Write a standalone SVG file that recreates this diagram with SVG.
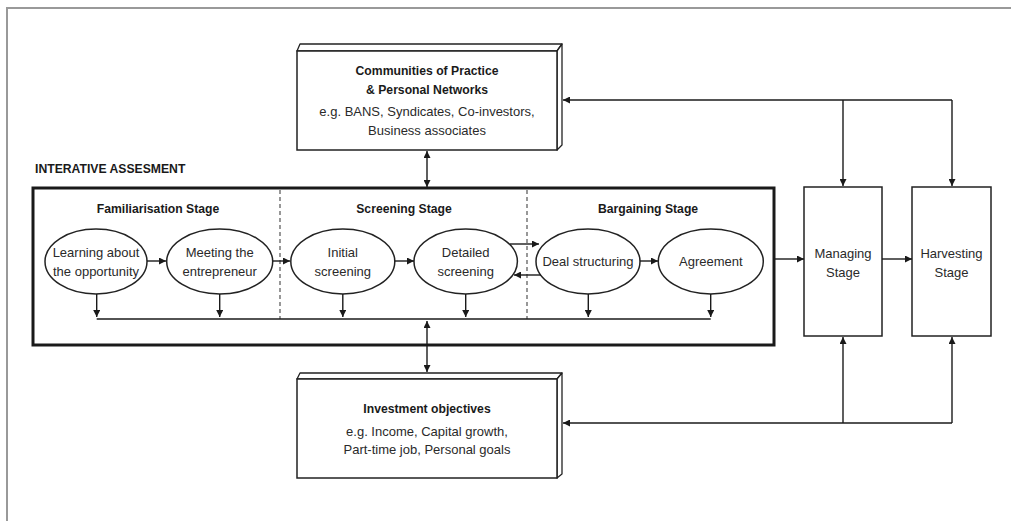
<svg xmlns="http://www.w3.org/2000/svg" width="1011" height="521" viewBox="0 0 1011 521">
<defs>
<marker id="ah" viewBox="0 0 10 10" refX="10" refY="5" markerWidth="8" markerHeight="7" markerUnits="userSpaceOnUse" orient="auto-start-reverse">
<path d="M0,0 L10,5 L0,10 z" fill="#1a1a1a"/>
</marker>
<style>
.ln{stroke:#1a1a1a;stroke-width:1.4;fill:none}
.arr{stroke:#1a1a1a;stroke-width:1.4;fill:none;marker-end:url(#ah)}
.dbl{stroke:#1a1a1a;stroke-width:1.4;fill:none;marker-end:url(#ah);marker-start:url(#ah)}
.box{fill:#fff;stroke:#222;stroke-width:1.5}
.face{fill:#fff;stroke:#222;stroke-width:1.3;stroke-linejoin:round}
.ell{fill:#fff;stroke:#222;stroke-width:1.5}
.t{font-family:"Liberation Sans",Arial,sans-serif;font-size:13px;fill:#2a2a2a;text-anchor:middle}
.b{font-family:"Liberation Sans",Arial,sans-serif;font-size:12.2px;font-weight:bold;fill:#1a1a1a;text-anchor:middle}
.dash{stroke:#444;stroke-width:1.1;stroke-dasharray:4,3;fill:none}
</style>
</defs>
<rect width="1011" height="521" fill="#fff"/>
<g id="frame">
<path d="M7,521 V8 H1011" fill="none" stroke="#999" stroke-width="2"/>
</g>

<g id="communities">
<polygon class="face" points="297,51 300,44 562,44 557,51"/>
<polygon class="face" points="557,51 562,44 562,145 557,150"/>
<rect class="box" x="297" y="51" width="260" height="99"/>
<text class="b" x="427" y="75">Communities of Practice</text>
<text class="b" x="427" y="94">&amp; Personal Networks</text>
<text class="t" x="427" y="116">e.g. BANS, Syndicates, Co-investors,</text>
<text class="t" x="427" y="135">Business associates</text>
</g>

<g id="iterative-assessment">
<text class="b" x="35" y="173" style="text-anchor:start">INTERATIVE ASSESMENT</text>
<rect x="33" y="188" width="741" height="157" fill="none" stroke="#1a1a1a" stroke-width="3"/>
<line class="dash" x1="280" y1="190" x2="280" y2="319"/>
<line class="dash" x1="527" y1="190" x2="527" y2="319"/>
<text class="b" x="158" y="213">Familiarisation Stage</text>
<text class="b" x="404" y="213">Screening Stage</text>
<text class="b" x="648" y="213">Bargaining Stage</text>
</g>

<g id="learning">
<ellipse class="ell" cx="96" cy="261.5" rx="51" ry="32.5"/>
<text class="t" x="96" y="257">Learning about</text>
<text class="t" x="96" y="276">the opportunity</text>
</g>
<g id="meeting">
<ellipse class="ell" cx="219.7" cy="261.5" rx="53" ry="32.5"/>
<text class="t" x="219.7" y="257">Meeting the</text>
<text class="t" x="219.7" y="276">entrepreneur</text>
</g>
<g id="initial">
<ellipse class="ell" cx="342.8" cy="261.5" rx="52" ry="32.5"/>
<text class="t" x="342.8" y="257">Initial</text>
<text class="t" x="342.8" y="276">screening</text>
</g>
<g id="detailed">
<ellipse class="ell" cx="465.7" cy="261.5" rx="51.7" ry="32.5"/>
<text class="t" x="465.7" y="257">Detailed</text>
<text class="t" x="465.7" y="276">screening</text>
</g>
<g id="deal">
<ellipse class="ell" cx="588" cy="261.5" rx="52" ry="32.5"/>
<text class="t" x="588" y="266">Deal structuring</text>
</g>
<g id="agreement">
<ellipse class="ell" cx="710.8" cy="261.5" rx="52.5" ry="32.5"/>
<text class="t" x="710.8" y="266">Agreement</text>
</g>

<g id="managing">
<rect class="box" x="804" y="187" width="78" height="149"/>
<text class="t" x="843" y="258">Managing</text>
<text class="t" x="843" y="277">Stage</text>
</g>
<g id="harvesting">
<rect class="box" x="912" y="187" width="79" height="149"/>
<text class="t" x="951.5" y="258">Harvesting</text>
<text class="t" x="951.5" y="277">Stage</text>
</g>

<g id="investment">
<polygon class="face" points="297,379 300,373 562,373 557,379"/>
<polygon class="face" points="557,379 562,373 562,474 557,478"/>
<rect class="box" x="297" y="379" width="260" height="99"/>
<text class="b" x="427" y="413">Investment objectives</text>
<text class="t" x="427" y="436">e.g. Income, Capital growth,</text>
<text class="t" x="427" y="454">Part-time job, Personal goals</text>
</g>

<g id="connectors">
<path class="arr" d="M147,261 H166"/>
<path class="arr" d="M273,261 H290"/>
<path class="arr" d="M395,261 H414"/>
<path class="arr" d="M510,244 H539"/>
<path class="arr" d="M541,275 H514"/>
<path class="arr" d="M640,261 H658"/>
<path class="ln" d="M96.7,319 H710.7"/>
<path class="arr" d="M96.7,294 V317"/>
<path class="arr" d="M219.7,294 V317"/>
<path class="arr" d="M342.8,294 V317"/>
<path class="arr" d="M465.7,294 V317"/>
<path class="arr" d="M588.3,294 V317"/>
<path class="arr" d="M710.7,294 V317"/>
<path class="dbl" d="M427,321 V372"/>
<path class="dbl" d="M427,151 V187"/>
<path class="arr" d="M775,259 H804"/>
<path class="arr" d="M882,259 H912"/>
<path class="ln" d="M952,100 H843"/>
<path class="arr" d="M843,100 H563"/>
<path class="arr" d="M843,100 V186"/>
<path class="arr" d="M952,100 V186"/>
<path class="ln" d="M952,423 H843"/>
<path class="arr" d="M843,423 H563"/>
<path class="arr" d="M843,423 V337"/>
<path class="arr" d="M952,423 V337"/>
</g>
</svg>
